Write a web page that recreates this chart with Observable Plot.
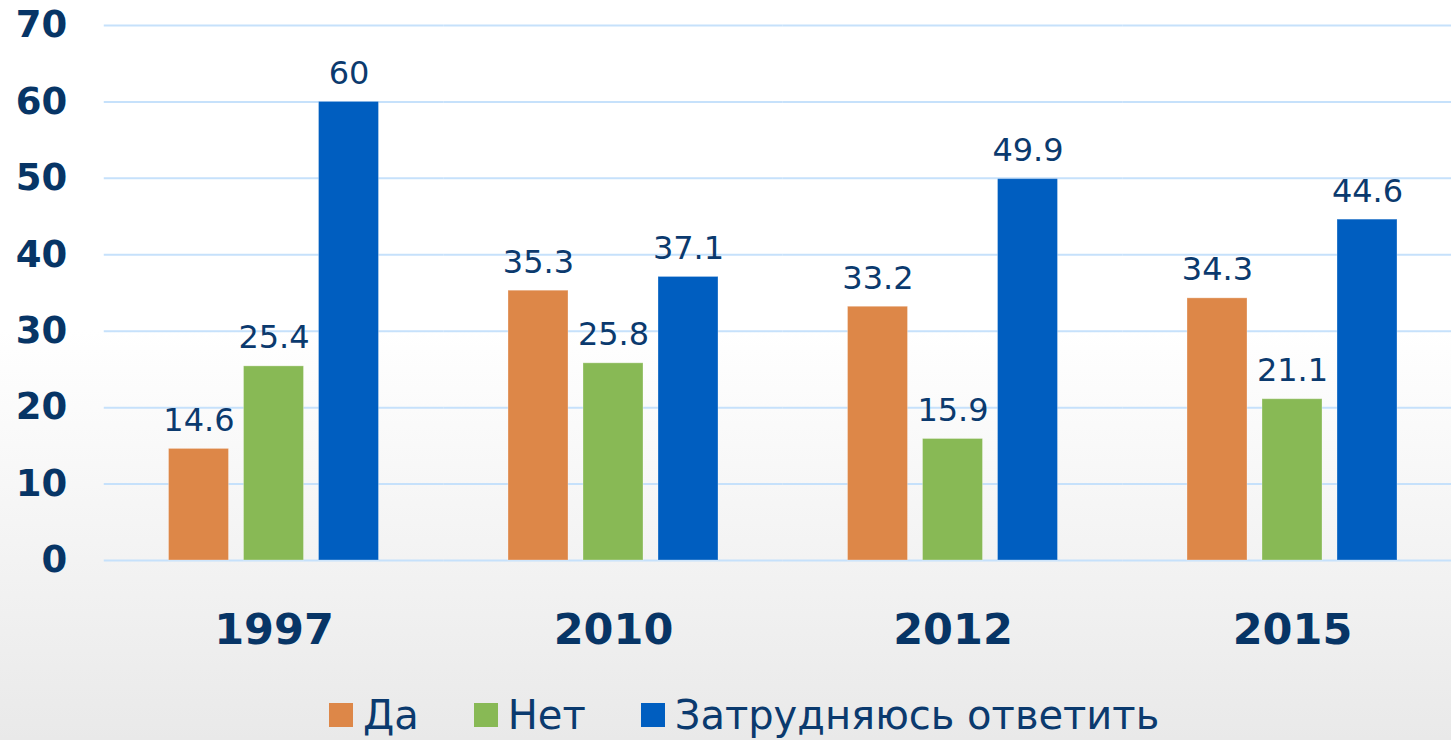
<!DOCTYPE html>
<html><head><meta charset="utf-8">
<script src="https://cdn.jsdelivr.net/npm/d3@7"></script>
<script src="https://cdn.jsdelivr.net/npm/@observablehq/plot@0.6"></script>
<style>
html,body{margin:0;padding:0;}
body{width:1451px;height:740px;overflow:hidden;position:relative;font-family:"DejaVu Sans",Verdana,sans-serif;
background:linear-gradient(to bottom,#ffffff 0px,#ffffff 330px,#f3f3f3 560px,#e9e9e9 740px);}
#chart svg{display:block;overflow:hidden}
#legend{position:absolute;left:329px;top:695px;display:flex;align-items:flex-start;font-size:40px;line-height:40px;color:#0b3a6e;white-space:nowrap}
.item{display:flex;align-items:flex-start;margin-right:55px}
.sw{width:24px;height:24px;margin-top:8px;margin-right:10px}
</style></head><body>
<div id="chart"></div><div id="legend"></div>
<script>
const years = ["1997", "2010", "2012", "2015"];
const series = ["Да", "Нет", "Затрудняюсь ответить"];
const da = [14.6, 35.3, 33.2, 34.3];
const net = [25.4, 25.8, 15.9, 21.1];
const zatr = [60, 37.1, 49.9, 44.6];
const colors = ["#dd8748", "#88b955", "#005ec0"];
const yTicks = [0, 10, 20, 30, 40, 50, 60, 70];

const valuesBySeries = [da, net, zatr];
const data = [];
years.forEach((yr, i) => {
  series.forEach((s, j) => data.push({year: yr, series: s, value: valuesBySeries[j][i]}));
});

const navy = "#0b3a6e";
const plot = Plot.plot({
  width: 1451,
  height: 680,
  marginLeft: 103,
  marginRight: 0,
  marginTop: 25,
  marginBottom: 120,
  style: {background: "transparent", fontFamily: "'DejaVu Sans', Verdana, sans-serif", color: navy, overflow: "hidden"},
  fx: {domain: years, range: [103.75, 1461.75], padding: 0, round: false, label: null},
  x: {domain: series, paddingInner: 0.2, paddingOuter: 0.8633, round: false, axis: null},
  y: {domain: [0, 70], label: null},
  color: {domain: series, range: colors},
  marks: [
    Plot.gridY(yTicks, {stroke: "#c6e1fb", strokeOpacity: 1, strokeWidth: 2}),
    Plot.barY(data, {fx: "year", x: "series", y: "value", fill: "series", stroke: "#ffffff", strokeOpacity: 0.3, strokeWidth: 1}),
    Plot.text(data, {fx: "year", x: "series", y: "value", text: d => String(d.value), lineAnchor: "bottom", dy: -18, fontSize: 32, fill: navy}),
    Plot.axisY(yTicks, {tickSize: 0, tickPadding: 37, fontSize: 37, fontWeight: "bold", fill: "#073566", label: null}),
    Plot.axisFx({anchor: "bottom", tickSize: 0, tickPadding: 53, fontSize: 43, fontWeight: "bold", fill: "#073566", label: null})
  ]
});
document.getElementById("chart").appendChild(plot);

const legend = document.getElementById("legend");
series.forEach((s, j) => {
  const item = document.createElement("div");
  item.className = "item";
  const sw = document.createElement("div");
  sw.className = "sw";
  sw.style.background = colors[j];
  const t = document.createElement("span");
  t.textContent = s;
  item.appendChild(sw);
  item.appendChild(t);
  legend.appendChild(item);
});
</script>
</body></html>
